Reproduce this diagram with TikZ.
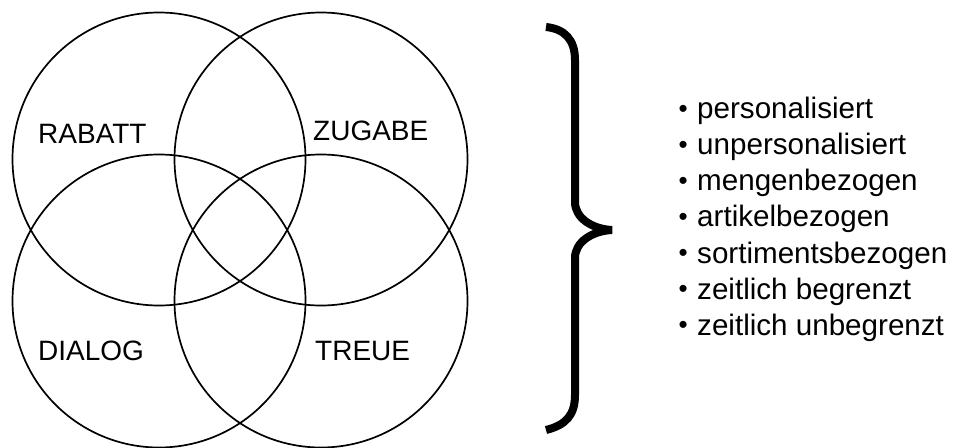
\documentclass[tikz,border=0pt]{standalone}
\usepackage{fontspec}
\setmainfont{Liberation Sans}
\newcommand{\bul}{\raisebox{1.5pt}{\fontsize{26}{26}\selectfont •}\hspace{9.4pt}}
\begin{document}
\begin{tikzpicture}[x=1pt,y=-1pt,
  ring/.style={circle,draw=black,line width=1.7pt,minimum size=293pt,inner sep=0pt},
  lab/.style={anchor=base west,inner sep=0pt,font=\fontsize{28}{34}\selectfont},
  item/.style={anchor=base west,inner sep=0pt,font=\fontsize{29.6}{35}\selectfont},
  bracestyle/.style={line width=8pt,line join=miter,line cap=butt}]
\useasboundingbox[fill=white] (0,0) rectangle (958,447);
\node[ring] (tl) at (159,159) {};
\node[ring] (tr) at (321,159) {};
\node[ring] (bl) at (159,301) {};
\node[ring] (br) at (321,301) {};
\node[lab] (rabatt) at (38,143) {RABATT};
\node[lab] (zugabe) at (313,140) {ZUGABE};
\node[lab] (dialog) at (38,360) {DIALOG};
\node[lab] (treue) at (315,360) {TREUE};
\coordinate (btop) at (546,27);
\coordinate (btip) at (612,230);
\coordinate (bbot) at (546,430);
\draw[bracestyle] (btop) .. controls (565,29) and (575,40) .. (575,60) -- (575,202)
  .. controls (575,218) and (592,229) .. (btip)
  .. controls (592,231) and (575,242) .. (575,258) -- (575,395)
  .. controls (575,415) and (566,425) .. (bbot);
\node[item] (i1) at (678.5,118.5) {\bul personalisiert};
\node[item] (i2) at (678.5,154.5) {\bul unpersonalisiert};
\node[item] (i3) at (678.5,190.5) {\bul mengenbezogen};
\node[item] (i4) at (678.5,226.5) {\bul artikelbezogen};
\node[item] (i5) at (678.5,263) {\bul sortimentsbezogen};
\node[item] (i6) at (678.5,299) {\bul zeitlich begrenzt};
\node[item] (i7) at (678.5,335) {\bul zeitlich unbegrenzt};
\end{tikzpicture}
\end{document}
